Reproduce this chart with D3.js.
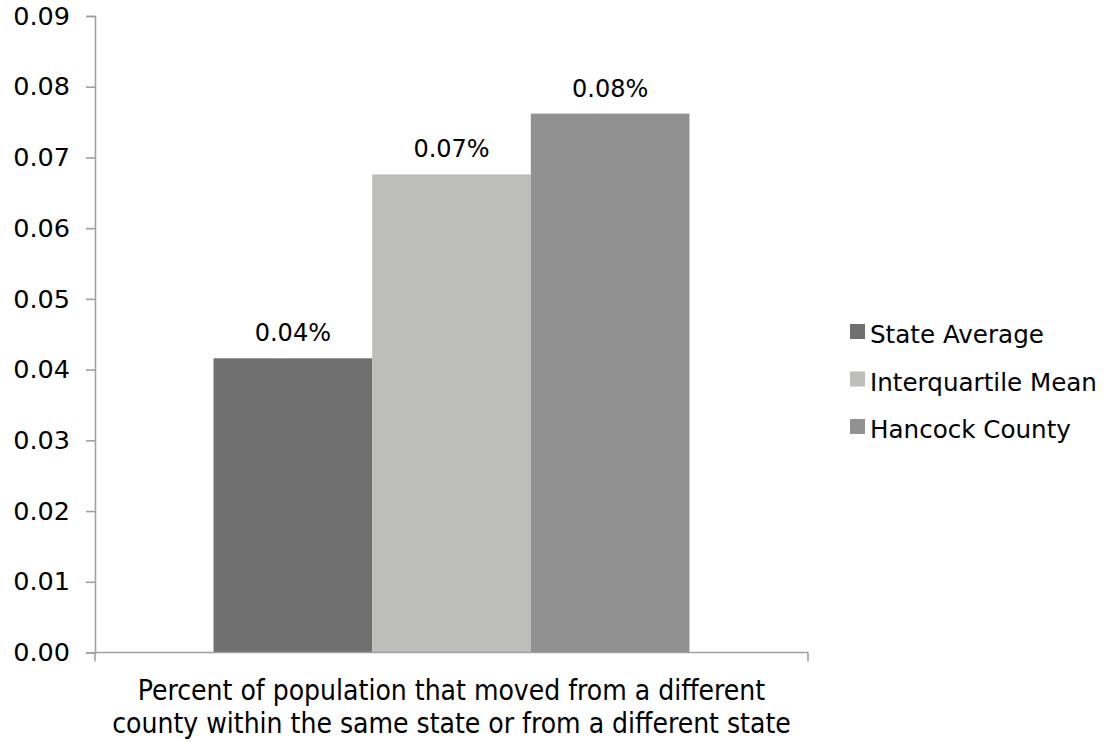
<!DOCTYPE html>
<html>
<head>
<meta charset="utf-8">
<script src="https://cdn.jsdelivr.net/npm/d3@7"></script>
<style>
  html, body { margin: 0; padding: 0; background: #fff; }
  svg { display: block; }
  text { font-family: "DejaVu Sans", Verdana, sans-serif; fill: #000; }
</style>
</head>
<body>
<svg id="chart" width="1110" height="742"></svg>
<script>
// Data
const category = "Percent of population that moved from a different county within the same state or from a different state";
const categoryLines = [
  "Percent of population that moved from a different",
  "county within the same state or from a different state"
];
const seriesNames = ["State Average", "Interquartile Mean", "Hancock County"];
const seriesValues = [0.0416, 0.0676, 0.0762];
const seriesColors = ["#707070", "#bdbdbc", "#919191"];
const yTicks = [0, 0.01, 0.02, 0.03, 0.04, 0.05, 0.06, 0.07, 0.08, 0.09];

const svg = d3.select("#chart");
const axisColor = "#a0a0a0";

// Scales
const plot = { left: 95, right: 808, top: 16, bottom: 652.5 };
const y = d3.scaleLinear().domain([0, 0.09]).range([plot.bottom, plot.top]);
const x0 = d3.scaleBand().domain([category]).range([plot.left, plot.right])
  .paddingInner(0).paddingOuter(0.249);
const x1 = d3.scaleBand().domain(seriesNames).range([0, x0.bandwidth()]).padding(0);

// Bars
const rows = seriesNames.map((s, i) => ({ name: s, value: seriesValues[i], color: seriesColors[i] }));
const g = svg.append("g");
g.selectAll("rect.bar").data(rows).join("rect")
  .attr("class", "bar")
  .attr("x", d => x0(category) + x1(d.name))
  .attr("width", x1.bandwidth())
  .attr("y", d => y(d.value))
  .attr("height", d => y(0) - y(d.value))
  .attr("fill", d => d.color);

// Value labels
const fmt = d3.format(".2f");
g.selectAll("text.val").data(rows).join("text")
  .attr("class", "val")
  .attr("x", d => x0(category) + x1(d.name) + x1.bandwidth() / 2)
  .attr("y", d => y(d.value) - 17)
  .attr("text-anchor", "middle")
  .style("font-size", "24px")
  .text(d => fmt(d.value) + "%");

// Y axis
const yAxis = d3.axisLeft(y).tickValues(yTicks).tickFormat(d3.format(".2f"))
  .tickSize(9).tickPadding(16);
const yg = svg.append("g").attr("transform", `translate(${plot.left},0)`).call(yAxis);
yg.select(".domain").attr("stroke", axisColor).attr("stroke-width", 1.6);
yg.selectAll(".tick line").attr("stroke", axisColor).attr("stroke-width", 1.6);
yg.selectAll(".tick text").style("font-size", "25.5px").style("font-family", "DejaVu Sans, sans-serif").attr("fill", "#000");

// X axis (category boundaries as ticks)
svg.append("line")
  .attr("x1", plot.left).attr("x2", plot.right)
  .attr("y1", y(0)).attr("y2", y(0))
  .attr("stroke", axisColor).attr("stroke-width", 1.6);
svg.selectAll("line.xtick").data([plot.left, plot.right]).join("line")
  .attr("class", "xtick")
  .attr("x1", d => d).attr("x2", d => d)
  .attr("y1", y(0)).attr("y2", y(0) + 9)
  .attr("stroke", axisColor).attr("stroke-width", 1.6);

// Category label
const cx = (plot.left + plot.right) / 2;
svg.append("text")
  .attr("x", cx).attr("y", 700)
  .attr("text-anchor", "middle")
  .style("font-family", "'DejaVu Sans Condensed', 'DejaVu Sans', sans-serif")
  .style("font-size", "28px")
  .selectAll("tspan").data(categoryLines).join("tspan")
  .attr("x", cx)
  .attr("dy", (d, i) => i === 0 ? 0 : 33)
  .text(d => d);

// Legend
const legend = svg.append("g").attr("transform", "translate(850,324)");
const li = legend.selectAll("g").data(rows).join("g")
  .attr("transform", (d, i) => `translate(0,${i * 47.5})`);
li.append("rect").attr("width", 15).attr("height", 15).attr("fill", d => d.color);
li.append("text").attr("x", 20).attr("y", 19)
  .style("font-size", "24.6px")
  .text(d => d.name);
</script>
</body>
</html>
